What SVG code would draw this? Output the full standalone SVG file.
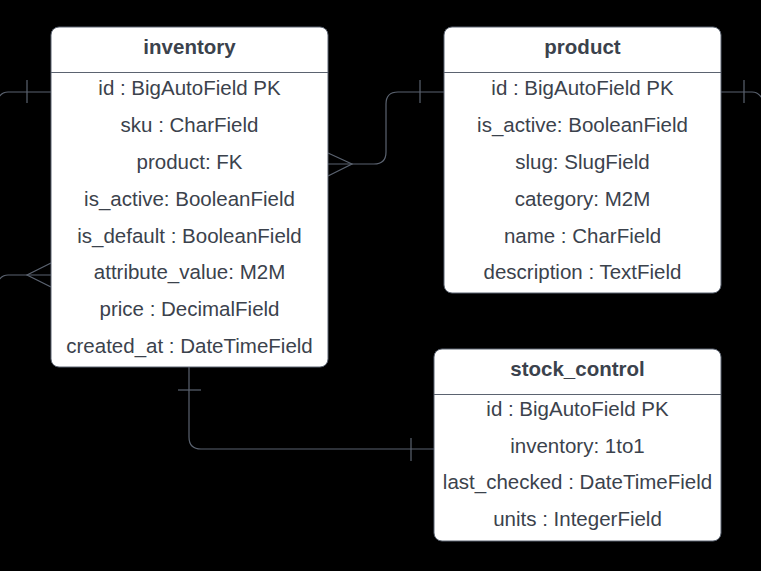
<svg xmlns="http://www.w3.org/2000/svg" width="761" height="571" viewBox="0 0 761 571">
<style>
.tbl{fill:#ffffff;stroke:#5b6370;stroke-width:1}
.sep{stroke:#5b6370;stroke-width:1}
.h{font-family:"Liberation Sans",Arial,sans-serif;font-size:20.5px;font-weight:bold;fill:#3b424c;text-anchor:middle}
.f{font-family:"Liberation Sans",Arial,sans-serif;font-size:20.5px;fill:#3b424c;text-anchor:middle}
.c{fill:none;stroke:#5b6370;stroke-width:1.2}
</style>
<rect x="0" y="0" width="761" height="571" fill="#000000"/>
<g id="connectors">
  <path class="c" d="M51,92 H8 Q1,92 -3,100"/>
  <path class="c" d="M27,80 V103"/>
  <path class="c" d="M51,275 H8 Q1,275 -3,283"/>
  <path class="c" d="M51,263 L27,275 L51,287"/>
  <path class="c" d="M328,164 H374 Q386,164 386,152 V104 Q386,92 398,92 H444"/>
  <path class="c" d="M328,153 L352,164 L328,176"/>
  <path class="c" d="M420,80 V103"/>
  <path class="c" d="M721,92 H752 Q759,92 763,100"/>
  <path class="c" d="M744,80 V103"/>
  <path class="c" d="M189,367 V437 Q189,449 201,449 H434"/>
  <path class="c" d="M178,390 H201"/>
  <path class="c" d="M411,438 V461"/>
</g>
<g id="inventory">
  <rect class="tbl" x="51" y="27" width="277" height="340" rx="8"/>
  <line class="sep" x1="51" y1="72.5" x2="328" y2="72.5"/>
  <text class="h" x="189.5" y="53.5">inventory</text>
  <text class="f" x="189.5" y="95">id : BigAutoField PK</text>
  <text class="f" x="189.5" y="132">sku : CharField</text>
  <text class="f" x="189.5" y="169">product: FK</text>
  <text class="f" x="189.5" y="206">is_active: BooleanField</text>
  <text class="f" x="189.5" y="242.5">is_default : BooleanField</text>
  <text class="f" x="189.5" y="279">attribute_value: M2M</text>
  <text class="f" x="189.5" y="316">price : DecimalField</text>
  <text class="f" x="189.5" y="353">created_at : DateTimeField</text>
</g>
<g id="product">
  <rect class="tbl" x="444" y="27" width="277" height="266" rx="8"/>
  <line class="sep" x1="444" y1="72.5" x2="721" y2="72.5"/>
  <text class="h" x="582.5" y="53.5">product</text>
  <text class="f" x="582.5" y="95">id : BigAutoField PK</text>
  <text class="f" x="582.5" y="132">is_active: BooleanField</text>
  <text class="f" x="582.5" y="169">slug: SlugField</text>
  <text class="f" x="582.5" y="206">category: M2M</text>
  <text class="f" x="582.5" y="242.5">name : CharField</text>
  <text class="f" x="582.5" y="279">description : TextField</text>
</g>
<g id="stock_control">
  <rect class="tbl" x="434" y="349" width="287" height="192" rx="8"/>
  <line class="sep" x1="434" y1="394.5" x2="721" y2="394.5"/>
  <text class="h" x="577.5" y="375.5">stock_control</text>
  <text class="f" x="577.5" y="416">id : BigAutoField PK</text>
  <text class="f" x="577.5" y="452.5">inventory: 1to1</text>
  <text class="f" x="577.5" y="489">last_checked : DateTimeField</text>
  <text class="f" x="577.5" y="526">units : IntegerField</text>
</g>
</svg>
